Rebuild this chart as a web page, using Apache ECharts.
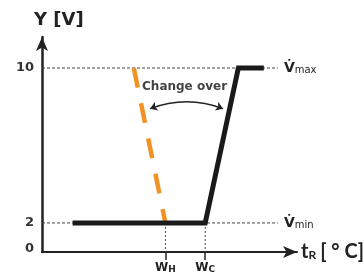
<!DOCTYPE html>
<html>
<head>
<meta charset="utf-8">
<script src="https://cdn.jsdelivr.net/npm/echarts@6/dist/echarts.min.js"></script>
<style>
  html, body { margin: 0; padding: 0; background: #fff; }
  #chart { width: 363px; height: 277px; }
</style>
</head>
<body>
<div id="chart"></div>
<script>
// schematic units: x is arbitrary temperature, y is volts
const yTicks = [0.7, 2, 10]
const yTickLabels = ['0', '2', '10']
const vMin = 2
const vMax = 10
const wH = 48.4
const wC = 64
const xTicks = [wH, wC]
const xTickLabels = ['W{s|H}', 'W{s|C}']

const curveX = [12, wC, 77, 87]
const curveY = [vMin, vMin, vMax, vMax]
const shiftedX = [36, wH]
const shiftedY = [vMax, vMin]
const guideEnd = 92.5

const FONT = 'DejaVu Sans'
const NARROW = 'Lato'
const INK = '#222'
const chart = echarts.init(document.getElementById('chart'))

const option = {
  animation: false,
  grid: { left: 42, right: 66, top: 37, bottom: 25, containLabel: false, outerBoundsMode: 'none' },
  xAxis: {
    type: 'value',
    min: 0,
    max: 100,
    splitLine: { show: false },
    axisLine: {
      lineStyle: { color: INK, width: 2 },
      symbol: ['none', 'arrow'],
      symbolSize: [9, 14]
    },
    axisTick: { show: true, customValues: xTicks, length: 8, inside: false, lineStyle: { color: INK, width: 1.5 } },
    axisLabel: {
      customValues: xTicks,
      margin: 9,
      formatter: v => xTickLabels[xTicks.indexOf(v)],
      color: INK,
      fontFamily: FONT,
      fontWeight: 'bold',
      fontSize: 12,
      rich: { s: { fontFamily: FONT, fontWeight: 'bold', fontSize: 9, padding: [4, 0, 0, 0], color: INK } }
    },
    name: '{b|t}{s|R}{g|}{c|[ ° C]}',
    nameLocation: 'end',
    nameGap: 4,
    nameTextStyle: {
      rich: {
        b: { fontFamily: NARROW, fontWeight: 'bold', fontSize: 20, color: INK },
        s: { fontFamily: NARROW, fontWeight: 'bold', fontSize: 12, color: INK, padding: [6, 0, 0, 0] },
        g: { width: 4 },
        c: { fontFamily: NARROW, fontWeight: 'bold', fontSize: 20, color: INK }
      }
    }
  },
  yAxis: {
    type: 'value',
    min: 0.5,
    max: 11.6,
    splitLine: { show: false },
    axisLine: {
      lineStyle: { color: INK, width: 2.5 },
      symbol: ['none', 'arrow'],
      symbolSize: [9, 14]
    },
    axisTick: { show: false },
    axisLabel: {
      customValues: yTicks,
      margin: 8,
      formatter: v => yTickLabels[yTicks.indexOf(v)],
      color: '#333',
      fontFamily: FONT,
      fontWeight: 'bold',
      fontSize: 13
    },
    name: 'Y [V]',
    nameLocation: 'end',
    nameGap: 8,
    nameTextStyle: { fontFamily: FONT, fontWeight: 'bold', fontSize: 18, color: INK, align: 'left', padding: [0, 0, 0, -8] }
  },
  series: [
    {
      type: 'line',
      data: [[0, vMax], [guideEnd, vMax]],
      symbol: 'none',
      lineStyle: { color: '#444', width: 1, type: [3, 2] },
      endLabel: {
        show: true,
        distance: 6,
        formatter: '{v|V\u0307}{s|max}',
        rich: {
          v: { fontFamily: FONT, fontWeight: 'bold', fontSize: 14, color: INK },
          s: { fontFamily: FONT, fontSize: 10, color: INK, padding: [5, 0, 0, 0] }
        }
      }
    },
    {
      type: 'line',
      data: [[0, vMin], [guideEnd, vMin]],
      symbol: 'none',
      lineStyle: { color: '#444', width: 1, type: [3, 2] },
      endLabel: {
        show: true,
        distance: 6,
        formatter: '{v|V\u0307}{s|min}',
        rich: {
          v: { fontFamily: FONT, fontWeight: 'bold', fontSize: 14, color: INK },
          s: { fontFamily: FONT, fontSize: 10, color: INK, padding: [5, 0, 0, 0] }
        }
      }
    },
    {
      type: 'line',
      data: [[wH, vMin], [wH, 0.5]],
      symbol: 'none',
      lineStyle: { color: '#444', width: 1, type: [2, 2] }
    },
    {
      type: 'line',
      data: [[wC, vMin], [wC, 0.5]],
      symbol: 'none',
      lineStyle: { color: '#444', width: 1, type: [2, 2] }
    },
    {
      type: 'line',
      data: shiftedX.map((x, i) => [x, shiftedY[i]]),
      symbol: 'none',
      lineStyle: { color: '#F39224', width: 4.5, type: [20, 16] }
    },
    {
      type: 'line',
      data: curveX.map((x, i) => [x, curveY[i]]),
      symbol: 'none',
      lineStyle: { color: '#1a1a1a', width: 5, join: 'miter' }
    },
    {
      type: 'lines',
      coordinateSystem: 'cartesian2d',
      symbol: ['arrow', 'arrow'],
      symbolSize: 7,
      lineStyle: { color: INK, width: 1.3, opacity: 1, curveness: 0.19 },
      data: [{ coords: [[42.4, 7.9], [71, 7.9]] }]
    },
    {
      type: 'scatter',
      symbolSize: 0,
      data: [[55.9, 9.02]],
      label: {
        show: true,
        position: 'inside',
        formatter: 'Change over',
        fontFamily: FONT,
        fontWeight: 'bold',
        fontSize: 12,
        color: '#111'
      }
    }
  ]
}

chart.setOption(option)
</script>
</body>
</html>
